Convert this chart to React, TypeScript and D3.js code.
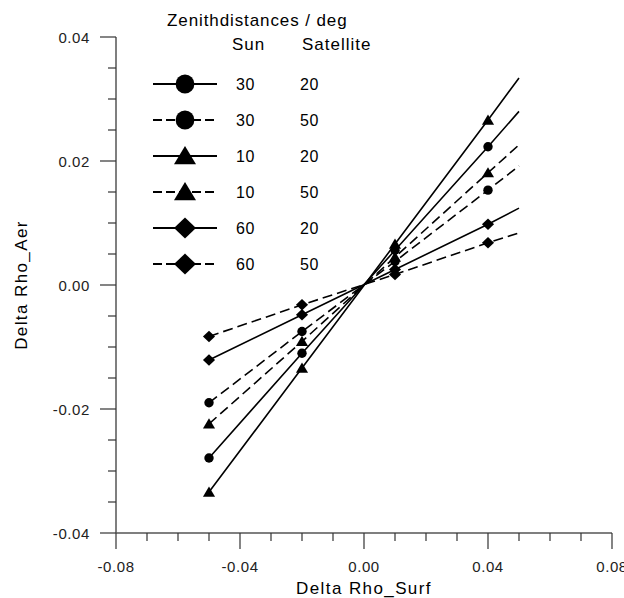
import React from "react";
import * as d3 from "d3";

// ---- data ----
const xValues = [-0.05, -0.02, 0.01, 0.04, 0.05]; // last point: line end, no marker
const markerCount = 4;
const sunZenith = ["30", "30", "10", "10", "60", "60"];
const satZenith = ["20", "50", "20", "50", "20", "50"];
const markerTypes = ["circle", "circle", "triangle", "triangle", "diamond", "diamond"];
const dashedFlags = [false, true, false, true, false, true];
const circleSolid = [-0.0279, -0.0110, 0.0056, 0.0223, 0.0280];
const circleDashed = [-0.0190, -0.0075, 0.0038, 0.0153, 0.0192];
const triangleSolid = [-0.0334, -0.0134, 0.0066, 0.0266, 0.0334];
const triangleDashed = [-0.0224, -0.0091, 0.0045, 0.0181, 0.0226];
const diamondSolid = [-0.0121, -0.0048, 0.0025, 0.0098, 0.0124];
const diamondDashed = [-0.0083, -0.0032, 0.0017, 0.0068, 0.0084];
const seriesValues = [circleSolid, circleDashed, triangleSolid, triangleDashed, diamondSolid, diamondDashed];
const xMajorTicks = [-0.08, -0.04, 0.0, 0.04, 0.08];
const yMajorTicks = [-0.04, -0.02, 0.0, 0.02, 0.04];
const xTickLabels = ["-0.08", "-0.04", "0.00", "0.04", "0.08"];
const yTickLabels = ["-0.04", "-0.02", "0.00", "0.02", "0.04"];

const FONT = "'Liberation Sans', Arial, sans-serif";

function Marker({ type, cx, cy, size }: { type: string; cx: number; cy: number; size: number }) {
  if (type === "circle") return <circle cx={cx} cy={cy} r={size * 0.47} fill="#000" />;
  if (type === "triangle") {
    const w = size * 1.1, h = size * 0.92;
    const p = `M${cx},${cy - h * 0.55}L${cx + w / 2},${cy + h * 0.45}L${cx - w / 2},${cy + h * 0.45}Z`;
    return <path d={p} fill="#000" />;
  }
  const w = size * 0.55, h = size * 0.52;
  const p = `M${cx},${cy - h}L${cx + w},${cy}L${cx},${cy + h}L${cx - w},${cy}Z`;
  return <path d={p} fill="#000" />;
}

export default function App() {
  const x = d3.scaleLinear().domain([-0.08, 0.08]).range([116, 612]);
  const y = d3.scaleLinear().domain([-0.04, 0.04]).range([533, 37]);
  const xMinor = d3.range(-0.08, 0.0801, 0.01);
  const yMinor = d3.range(-0.04, 0.0401, 0.005);
  const line = d3
    .line<number>()
    .x((_, i) => x(xValues[i]))
    .y((d) => y(d));

  const legendRowsY = [84, 120, 156, 192, 228, 264];

  return (
    <svg width={624} height={598} style={{ position: "absolute", left: 0, top: 0, background: "#fff" }}
      fontFamily={FONT}>
      {/* axes */}
      <line x1={116} x2={116} y1={37} y2={533} stroke="#555" strokeWidth={1.5} />
      <line x1={116} x2={612} y1={533} y2={533} stroke="#555" strokeWidth={1.5} />
      {yMinor.map((v, i) => {
        const major = yMajorTicks.some((m) => Math.abs(m - v) < 1e-9);
        return <line key={"ym" + i} x1={major ? 100 : 108} x2={116} y1={y(v)} y2={y(v)} stroke="#333" strokeWidth={1.2} />;
      })}
      {xMinor.map((v, i) => {
        const major = xMajorTicks.some((m) => Math.abs(m - v) < 1e-9);
        return <line key={"xm" + i} x1={x(v)} x2={x(v)} y1={533} y2={major ? 549 : 541} stroke="#333" strokeWidth={1.2} />;
      })}
      {yMajorTicks.map((v, i) => (
        <text key={"yl" + i} x={90} y={y(v) + 5.5} textAnchor="end" fontSize={15} letterSpacing={0.6} fill="#222">
          {yTickLabels[i]}
        </text>
      ))}
      {xMajorTicks.map((v, i) => (
        <text key={"xl" + i} x={x(v)} y={572} textAnchor="middle" fontSize={15} letterSpacing={0.6} fill="#222">
          {xTickLabels[i]}
        </text>
      ))}
      <text x={364} y={594} textAnchor="middle" fontSize={17} letterSpacing={1.4} fill="#000">
        Delta Rho_Surf
      </text>
      <text transform="translate(27,285) rotate(-90)" textAnchor="middle" fontSize={17} letterSpacing={1.4} fill="#000">
        Delta Rho_Aer
      </text>

      {/* series */}
      {seriesValues.map((vals, s) => (
        <g key={"s" + s}>
          <path d={line(vals) || ""} fill="none" stroke="#000" strokeWidth={1.6}
            strokeDasharray={dashedFlags[s] ? "10,5" : undefined} />
          {vals.slice(0, markerCount).map((v, i) => (
            <Marker key={i} type={markerTypes[s]} cx={x(xValues[i])} cy={y(v)} size={markerTypes[s] === "circle" ? 10 : 11} />
          ))}
        </g>
      ))}

      {/* legend */}
      <text x={167} y={26} fontSize={17} letterSpacing={0.9} fill="#000">Zenithdistances / deg</text>
      <text x={232} y={50} fontSize={17} letterSpacing={1} fill="#000">Sun</text>
      <text x={302} y={50} fontSize={17} letterSpacing={1} fill="#000">Satellite</text>
      {legendRowsY.map((ly, s) => (
        <g key={"lg" + s}>
          <line x1={153} x2={217} y1={ly} y2={ly} stroke="#000" strokeWidth={2}
            strokeDasharray={dashedFlags[s] ? "9,4" : undefined} />
          <Marker type={markerTypes[s]} cx={185} cy={ly} size={20} />
          <text x={236} y={ly + 6} fontSize={16} letterSpacing={0.5} fill="#000">{sunZenith[s]}</text>
          <text x={300} y={ly + 6} fontSize={16} letterSpacing={0.5} fill="#000">{satZenith[s]}</text>
        </g>
      ))}
    </svg>
  );
}
